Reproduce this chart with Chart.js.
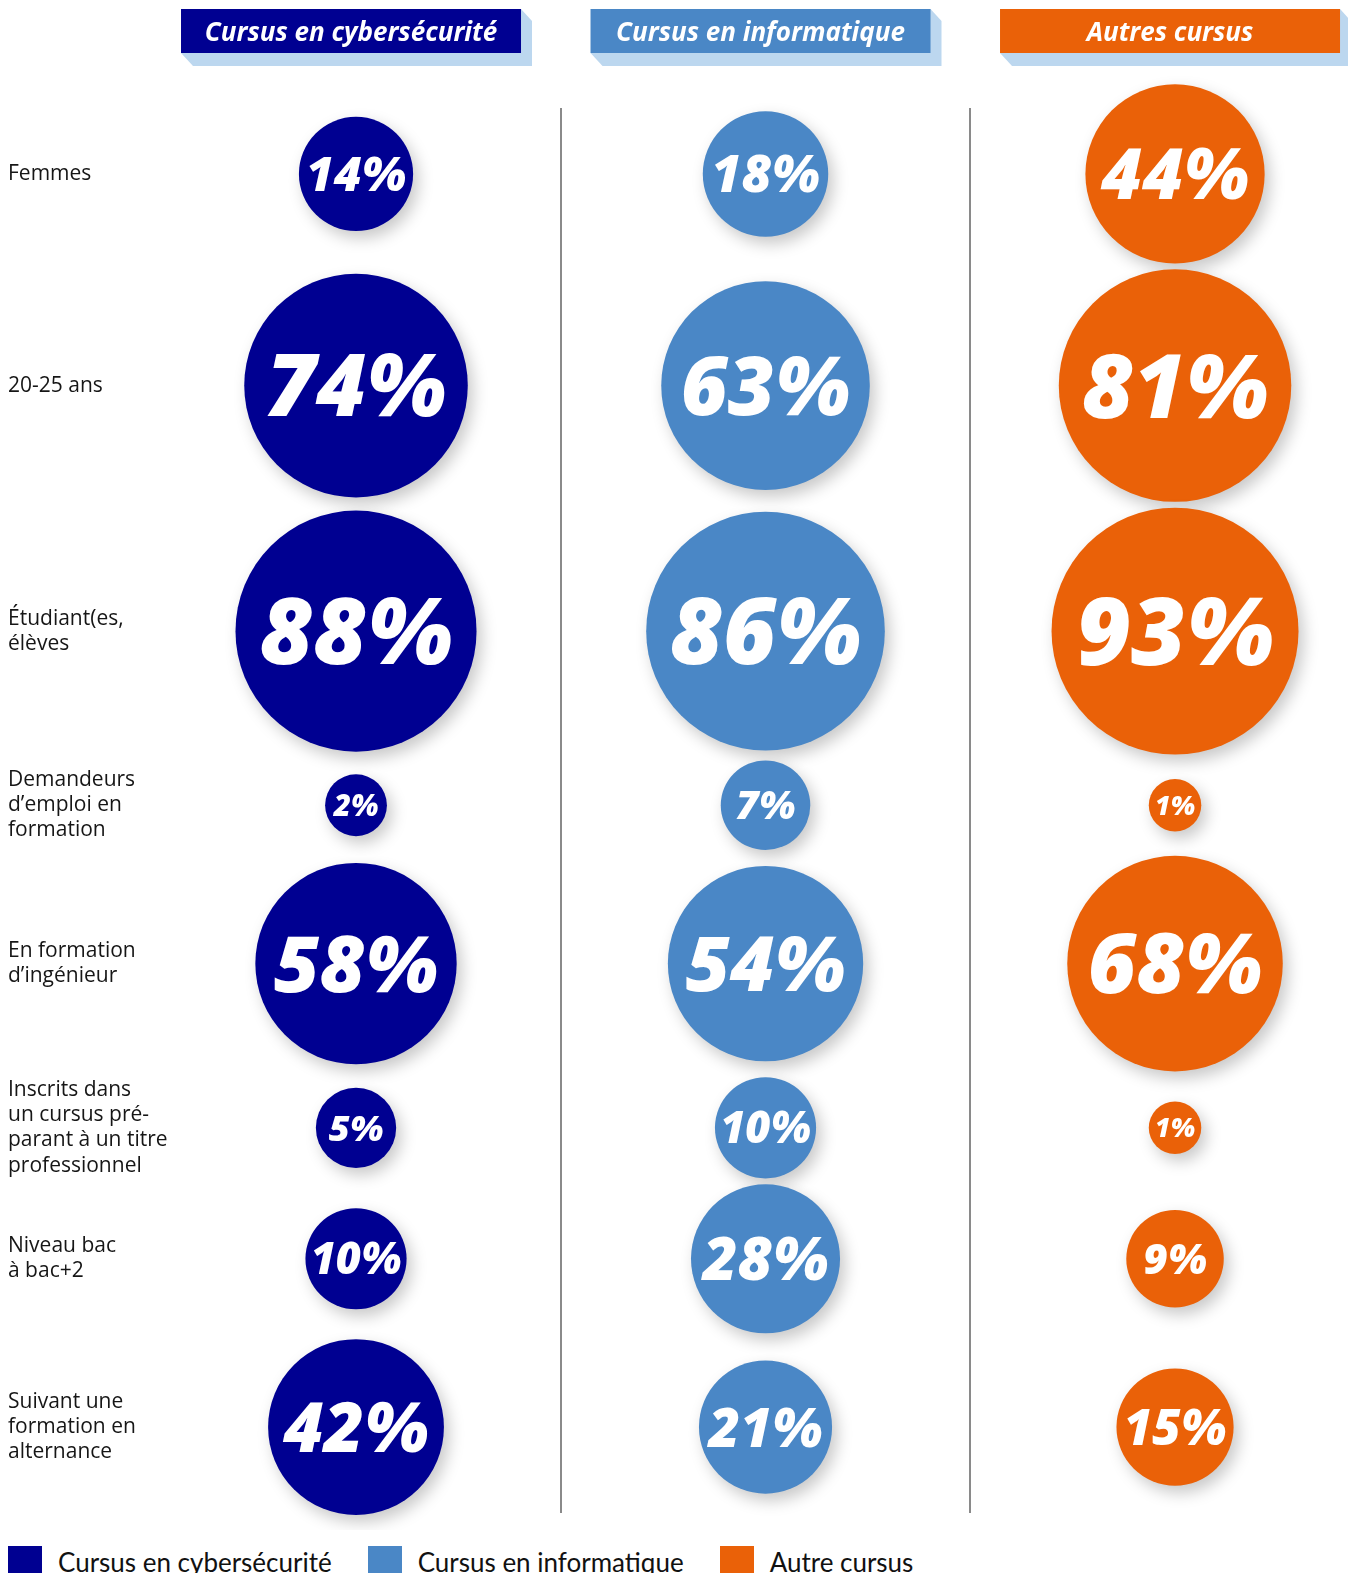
<!DOCTYPE html>
<html lang="fr">
<head>
<meta charset="utf-8">
<title>Profil des inscrits par cursus</title>
<script src="https://cdn.jsdelivr.net/npm/chart.js@4.4.1/dist/chart.umd.min.js"></script>
<style>
  html, body { margin: 0; padding: 0; background: #fff; overflow: hidden; }
  #wrap { position: relative; width: 1348px; height: 1573px; }
  #legend { position: absolute; left: 8px; top: 1546px; display: flex; font-family: Lato, sans-serif; font-size: 26px; color: #111; }
  #legend .item { display: flex; align-items: flex-start; margin-right: 36px; }
  #legend .box { width: 34px; height: 28px; margin-right: 16px; }
  #legend .txt { line-height: 28px; margin-top: 2px; }
</style>
</head>
<body>
<div id="wrap">
  <canvas id="bubbleChart" width="1348" height="1530"></canvas>
  <div id="legend"></div>
</div>
<script>
// Row labels (left side), one array of lines per row
const rowLabels = [
  ['Femmes'],
  ['20-25 ans'],
  ['Étudiant(es,', 'élèves'],
  ['Demandeurs', 'd’emploi en', 'formation'],
  ['En formation', 'd’ingénieur'],
  ['Inscrits dans', 'un cursus pré-', 'parant à un titre', 'professionnel'],
  ['Niveau bac', 'à bac+2'],
  ['Suivant une', 'formation en', 'alternance']
];

// Column headers and legend names
const headers = ['Cursus en cybersécurité', 'Cursus en informatique', 'Autres cursus'];
const seriesNames = ['Cursus en cybersécurité', 'Cursus en informatique', 'Autre cursus'];

// Percentages per row
const cyber = [14, 74, 88, 2, 58, 5, 10, 42];
const info = [18, 63, 86, 7, 54, 10, 28, 21];
const autres = [44, 81, 93, 1, 68, 1, 9, 15];

const colors = ['#000091', '#4a87c6', '#ea6108'];
const headerShadow = '#bcd7ef';

// Bubble radius from a percentage
function bubbleR(v) {
  return 15 + 11.25 * Math.sqrt(v);
}

// Row centers: each row gets room for its biggest bubble
function getRowCenters(series) {
  const maxR = rowLabels.map((_, i) => Math.max(...series.map(s => bubbleR(s[i]))));
  const centers = [0];
  for (let i = 1; i < maxR.length; i++) {
    centers.push(centers[i - 1] + maxR[i - 1] + maxR[i] + 6);
  }
  return centers;
}

const allSeries = [cyber, info, autres];
const rowCenters = getRowCenters(allSeries);

function buildData(values, col) {
  return values.map((v, i) => ({ x: col, y: rowCenters[i], r: bubbleR(v), v: v }));
}

// Soft drop shadow under the bubbles, then white percentage labels
const bubbleDecor = {
  id: 'bubbleDecor',
  beforeDatasetsDraw(chart) {
    const ctx = chart.ctx;
    ctx.save();
    ctx.shadowColor = 'rgba(0, 0, 0, 0.22)';
    ctx.shadowBlur = 16;
    ctx.shadowOffsetX = 5;
    ctx.shadowOffsetY = 7;
  },
  afterDatasetsDraw(chart) {
    const ctx = chart.ctx;
    ctx.restore();
    ctx.save();
    ctx.fillStyle = '#fff';
    ctx.textAlign = 'center';
    ctx.textBaseline = 'alphabetic';
    chart.data.datasets.forEach((ds, di) => {
      chart.getDatasetMeta(di).data.forEach((el, i) => {
        const r = ds.data[i].r;
        const size = 0.7 * r + 8;
        ctx.font = 'italic 800 ' + size + 'px "Open Sans", sans-serif';
        ctx.fillText(ds.data[i].v + '%', el.x, el.y + size * 0.357);
      });
    });
    ctx.restore();
  }
};

// Column header boxes with light blue extrusion
const columnHeaders = {
  id: 'columnHeaders',
  afterDraw(chart) {
    const ctx = chart.ctx;
    const xs = chart.scales.x;
    const w = 340, h = 44, top = 9;
    ctx.save();
    headers.forEach((text, i) => {
      const cx = xs.getPixelForValue(i) - 5;
      const left = cx - w / 2;
      ctx.fillStyle = headerShadow;
      ctx.beginPath();
      ctx.moveTo(left, top + h);
      ctx.lineTo(left + 12, top + h + 13);
      ctx.lineTo(left + w + 11, top + h + 13);
      ctx.lineTo(left + w + 11, top + 12);
      ctx.lineTo(left + w, top);
      ctx.closePath();
      ctx.fill();
      ctx.fillStyle = colors[i];
      ctx.fillRect(left, top, w, h);
      ctx.fillStyle = '#fff';
      ctx.font = 'italic 700 26px "Open Sans", sans-serif';
      ctx.textAlign = 'center';
      ctx.textBaseline = 'alphabetic';
      ctx.fillText(text, cx, top + 32);
    });
    ctx.restore();
  }
};

// HTML legend under the canvas
const htmlLegend = {
  id: 'htmlLegend',
  afterUpdate(chart) {
    const box = document.getElementById('legend');
    box.innerHTML = '';
    chart.data.datasets.forEach(ds => {
      const item = document.createElement('div');
      item.className = 'item';
      const sw = document.createElement('div');
      sw.className = 'box';
      sw.style.background = ds.backgroundColor;
      const txt = document.createElement('div');
      txt.className = 'txt';
      txt.textContent = ds.label;
      item.appendChild(sw);
      item.appendChild(txt);
      box.appendChild(item);
    });
  }
};

const ctx = document.getElementById('bubbleChart').getContext('2d');
new Chart(ctx, {
  type: 'bubble',
  data: {
    datasets: allSeries.map((values, col) => ({
      label: seriesNames[col],
      data: buildData(values, col),
      backgroundColor: colors[col],
      borderWidth: 0,
      clip: false
    }))
  },
  options: {
    responsive: false,
    animation: false,
    devicePixelRatio: 1,
    events: [],
    layout: {
      autoPadding: false,
      padding: { left: 8, top: 108, right: 0, bottom: 17 }
    },
    scales: {
      x: {
        type: 'linear',
        min: -0.4347,
        max: 2.4224,
        afterBuildTicks: scale => {
          scale.ticks = [0.5, 1.5].map(v => ({ value: v }));
        },
        afterFit: scale => { scale.height = 0; },
        ticks: { display: false },
        grid: { color: '#8a8a8a', lineWidth: 2, drawTicks: false },
        border: { display: false }
      },
      y: {
        type: 'linear',
        reverse: true,
        min: -66,
        max: rowCenters[rowCenters.length - 1] + 86,
        afterBuildTicks: scale => {
          scale.ticks = rowCenters.map(v => ({ value: v }));
        },
        afterFit: scale => { scale.width = 170; },
        ticks: {
          autoSkip: false,
          crossAlign: 'far',
          color: '#161616',
          font: { family: 'Open Sans', size: 21, lineHeight: 1.2 },
          callback: (value, index) => rowLabels[index]
        },
        grid: { display: false },
        border: { display: false }
      }
    },
    plugins: {
      legend: { display: false },
      tooltip: { enabled: false }
    }
  },
  plugins: [bubbleDecor, columnHeaders, htmlLegend]
});
</script>
</body>
</html>
